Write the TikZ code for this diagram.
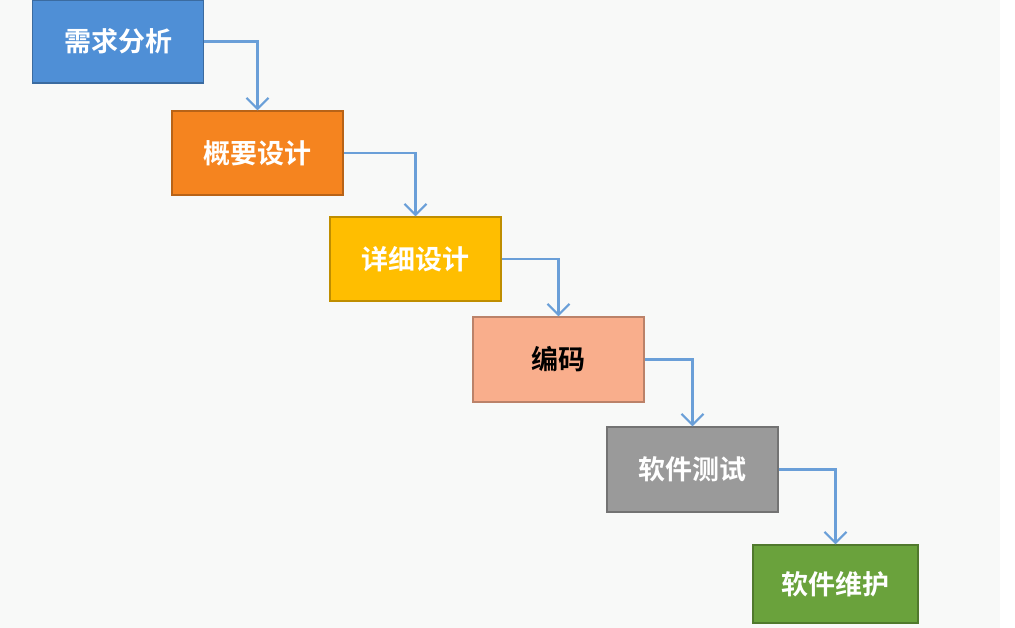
\documentclass[tikz,border=0pt]{standalone}
\usepackage{fontspec}
\newfontfamily\cjk{Noto Sans CJK SC}[BoldFont={Noto Sans CJK SC Bold}]
\usetikzlibrary{arrows.meta}
\definecolor{bgc}{HTML}{F8F9F8}
\definecolor{cblue}{HTML}{4F8FD6}
\definecolor{corange}{HTML}{F5841F}
\definecolor{cyellow}{HTML}{FFBE00}
\definecolor{csalmon}{HTML}{F9AE8C}
\definecolor{cgray}{HTML}{9A9A9A}
\definecolor{cgreen}{HTML}{6AA23C}
\definecolor{cline}{HTML}{6A9FD8}
\tikzset{
  stagebox/.style={rectangle, draw=#1!75!black, fill=#1, line width=1.2pt, minimum width=171pt, minimum height=84pt, inner sep=0pt, font=\cjk\bfseries\fontsize{27}{30}\selectfont, text=white},
  flow/.style={draw=cline, line width=2.2pt, -{Straight Barb[length=11pt,width=22pt,line width=2.2pt]}}
}
\begin{document}
\begin{tikzpicture}[x=1pt,y=-1pt]
\useasboundingbox (0,0) rectangle (1015,628);
\fill[bgc] (0,0) rectangle (1000,628);
\fill[white] (1000,0) rectangle (1015,628);
\node[stagebox=cblue, minimum height=83pt] (b1) at (118,41.5) {需求分析};
\node[stagebox=corange] (b2) at (257.5,153) {概要设计};
\node[stagebox=cyellow] (b3) at (415.5,259) {详细设计};
\node[stagebox=csalmon, minimum height=85pt, text=black] (b4) at (558.5,359.5) {编码};
\node[stagebox=cgray, minimum height=85pt] (b5) at (692.5,469.5) {软件测试};
\node[stagebox=cgreen, minimum width=165pt, minimum height=78pt] (b6) at (835.5,584) {软件维护};
\draw[flow] (b1.east) -| (b2.north);
\draw[flow] (b2.east) -| (b3.north);
\draw[flow] (b3.east) -| (b4.north);
\draw[flow] (b4.east) -| (b5.north);
\draw[flow] (b5.east) -| (b6.north);
\end{tikzpicture}
\end{document}
